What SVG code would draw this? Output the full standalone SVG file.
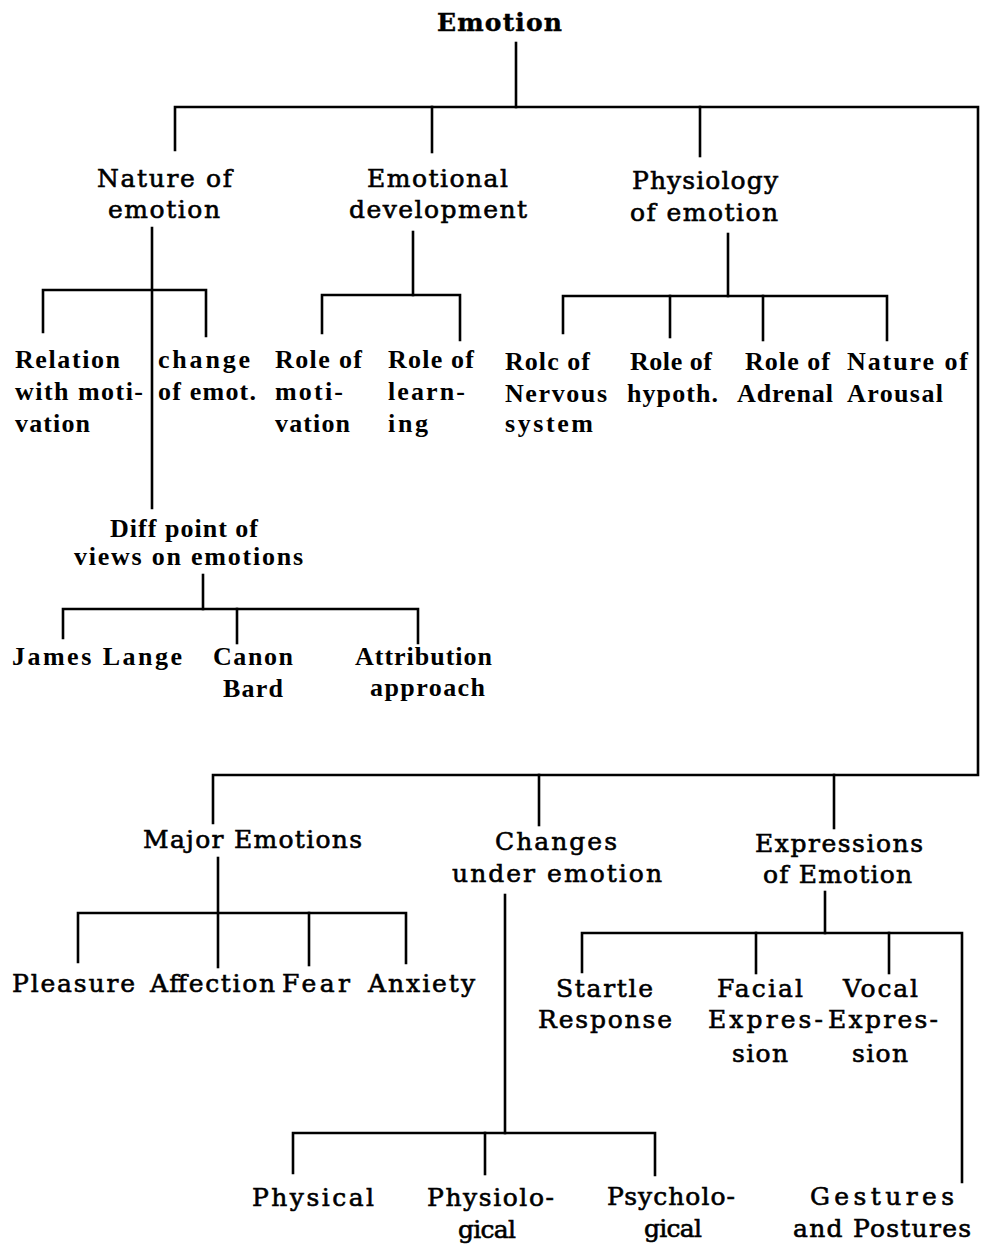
<svg xmlns="http://www.w3.org/2000/svg" width="996" height="1249" viewBox="0 0 996 1249">
<style>
text{fill:#000}
.a{font-family:"DejaVu Serif","Liberation Serif",serif;font-size:25px;stroke:#000;stroke-width:0.6}
.t{font-family:"DejaVu Serif","Liberation Serif",serif;font-size:25px;font-weight:bold;stroke:#000;stroke-width:0.4}
.b{font-family:"Liberation Serif","DejaVu Serif",serif;font-size:26px;font-weight:bold}
#connectors path{fill:none;stroke:#000;stroke-width:2.6;stroke-linecap:square;stroke-linejoin:miter}
</style>
<rect width="996" height="1249" fill="#fff"/>
<g id="connectors">
<path d="M516,43 V107"/>
<path d="M175,150 V107 H978 V775 H213 V823"/>
<path d="M432,107 V152"/>
<path d="M700,107 V156"/>
<path d="M152,228 V508"/>
<path d="M43,332 V290 H206 V336"/>
<path d="M203,575 V609"/>
<path d="M63,638 V609 H418 V643"/>
<path d="M237,609 V643"/>
<path d="M413,232 V295"/>
<path d="M322,333 V295 H460 V340"/>
<path d="M728,234 V296"/>
<path d="M563,333 V296 H887 V340"/>
<path d="M670,296 V337"/>
<path d="M763,296 V340"/>
<path d="M539,775 V825"/>
<path d="M834,775 V828"/>
<path d="M218,858 V967"/>
<path d="M78,962 V913 H406 V963"/>
<path d="M309,913 V965"/>
<path d="M505,895 V1133"/>
<path d="M293,1173 V1133 H655 V1175"/>
<path d="M485,1133 V1174"/>
<path d="M825,892 V933"/>
<path d="M582,972 V933 H962 V1182"/>
<path d="M756,933 V973"/>
<path d="M889,933 V973"/>
</g>
<g id="emotion"><text class="t" x="437" y="31" textLength="125">Emotion</text></g>
<g id="nature-of-emotion">
<text class="a" x="97" y="187" textLength="135">Nature of</text>
<text class="a" x="108" y="218" textLength="112">emotion</text>
</g>
<g id="emotional-development">
<text class="a" x="367" y="187" textLength="141">Emotional</text>
<text class="a" x="349" y="218" textLength="178">development</text>
</g>
<g id="physiology-of-emotion">
<text class="a" x="632" y="189" textLength="146">Physiology</text>
<text class="a" x="630" y="221" textLength="148">of emotion</text>
</g>
<g id="relation-with-motivation">
<text class="b" x="15" y="368" textLength="105">Relation</text>
<text class="b" x="15" y="400" textLength="128">with moti-</text>
<text class="b" x="15" y="432" textLength="75">vation</text>
</g>
<g id="change-of-emot">
<text class="b" x="158" y="368" textLength="92">change</text>
<text class="b" x="158" y="400" textLength="98">of emot.</text>
</g>
<g id="role-of-motivation">
<text class="b" x="275" y="368" textLength="87">Role of</text>
<text class="b" x="275" y="400" textLength="68">moti-</text>
<text class="b" x="275" y="432" textLength="75">vation</text>
</g>
<g id="role-of-learning">
<text class="b" x="388" y="368" textLength="86">Role of</text>
<text class="b" x="388" y="400" textLength="77">learn-</text>
<text class="b" x="388" y="432" textLength="40">ing</text>
</g>
<g id="role-of-nervous-system">
<text class="b" x="505" y="370" textLength="85">Rolc of</text>
<text class="b" x="505" y="402" textLength="102">Nervous</text>
<text class="b" x="505" y="432" textLength="88">system</text>
</g>
<g id="role-of-hypoth">
<text class="b" x="630" y="370" textLength="82">Role of</text>
<text class="b" x="627" y="402" textLength="91">hypoth.</text>
</g>
<g id="role-of-adrenal">
<text class="b" x="745" y="370" textLength="85">Role of</text>
<text class="b" x="737" y="402" textLength="96">Adrenal</text>
</g>
<g id="nature-of-arousal">
<text class="b" x="847" y="370" textLength="121">Nature of</text>
<text class="b" x="847" y="402" textLength="96">Arousal</text>
</g>
<g id="diff-point-of-views">
<text class="b" x="110" y="537" textLength="148">Diff point of</text>
<text class="b" x="74" y="565" textLength="229">views on emotions</text>
</g>
<g id="james-lange"><text class="b" x="12" y="665" textLength="170">James Lange</text></g>
<g id="canon-bard">
<text class="b" x="213" y="665" textLength="80">Canon</text>
<text class="b" x="223" y="697" textLength="60">Bard</text>
</g>
<g id="attribution-approach">
<text class="b" x="355" y="665" textLength="137">Attribution</text>
<text class="b" x="370" y="696" textLength="115">approach</text>
</g>
<g id="major-emotions"><text class="a" x="143" y="848" textLength="219">Major Emotions</text></g>
<g id="changes-under-emotion">
<text class="a" x="495" y="850" textLength="122">Changes</text>
<text class="a" x="452" y="882" textLength="210">under emotion</text>
</g>
<g id="expressions-of-emotion">
<text class="a" x="755" y="852" textLength="168">Expressions</text>
<text class="a" x="763" y="883" textLength="149">of Emotion</text>
</g>
<g id="pleasure"><text class="a" x="12" y="992" textLength="123">Pleasure</text></g>
<g id="affection"><text class="a" x="150" y="992" textLength="125">Affection</text></g>
<g id="fear"><text class="a" x="282" y="992" textLength="68">Fear</text></g>
<g id="anxiety"><text class="a" x="368" y="992" textLength="107">Anxiety</text></g>
<g id="startle-response">
<text class="a" x="556" y="997" textLength="97">Startle</text>
<text class="a" x="538" y="1028" textLength="134">Response</text>
</g>
<g id="facial-expression">
<text class="a" x="717" y="997" textLength="86">Facial</text>
<text class="a" x="708" y="1028" textLength="115">Expres-</text>
<text class="a" x="732" y="1062" textLength="56">sion</text>
</g>
<g id="vocal-expression">
<text class="a" x="843" y="997" textLength="75">Vocal</text>
<text class="a" x="828" y="1028" textLength="110">Expres-</text>
<text class="a" x="852" y="1062" textLength="56">sion</text>
</g>
<g id="physical"><text class="a" x="252" y="1206" textLength="122">Physical</text></g>
<g id="physiological">
<text class="a" x="427" y="1206" textLength="127">Physiolo-</text>
<text class="a" x="458" y="1238" textLength="58">gical</text>
</g>
<g id="psychological">
<text class="a" x="607" y="1205" textLength="128">Psycholo-</text>
<text class="a" x="644" y="1237" textLength="58">gical</text>
</g>
<g id="gestures-and-postures">
<text class="a" x="810" y="1205" textLength="144">Gestures</text>
<text class="a" x="793" y="1237" textLength="178">and Postures</text>
</g>
</svg>
